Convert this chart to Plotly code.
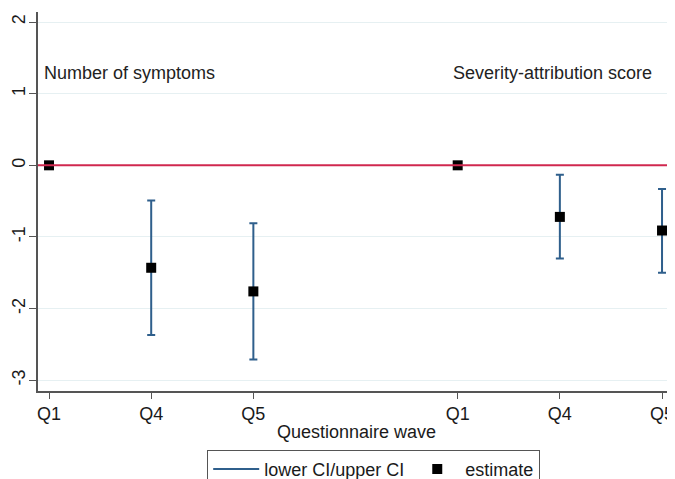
import plotly.graph_objects as go

# Data
x_pos = [1, 2, 3, 5, 6, 7]
tick_labels = ["Q1", "Q4", "Q5", "Q1", "Q4", "Q5"]
y_ticks = [-3, -2, -1, 0, 1, 2]
y_tick_labels = ["-3", "-2", "-1", "0", "1", "2"]
estimate = [0.0, -1.43, -1.76, 0.0, -0.72, -0.91]
upper_ci = [None, -0.49, -0.81, None, -0.13, -0.33]
lower_ci = [None, -2.37, -2.71, None, -1.30, -1.50]
panel_titles = ["Number of symptoms", "Severity-attribution score"]
panel_title_x = [0.93, 4.93]
panel_title_y = 1.29

ci_color = "#2f5f8c"
font_family = "Liberation Sans, Arial, sans-serif"

ci_x = [x for x, u in zip(x_pos, upper_ci) if u is not None]
ci_mid = [(u + l) / 2 for u, l in zip(upper_ci, lower_ci) if u is not None]
ci_half = [(u - l) / 2 for u, l in zip(upper_ci, lower_ci) if u is not None]

fig = go.Figure()

fig.add_trace(go.Scatter(
    x=ci_x, y=ci_mid, mode="markers",
    marker=dict(size=1, color="rgba(0,0,0,0)"),
    error_y=dict(type="data", array=ci_half, visible=True,
                 color=ci_color, thickness=2, width=4),
    showlegend=False, hoverinfo="skip",
))
# legend proxy for CI
fig.add_trace(go.Scatter(
    x=[None], y=[None], mode="lines",
    line=dict(color=ci_color, width=2),
    name="lower CI/upper CI",
))
fig.add_trace(go.Scatter(
    x=x_pos, y=estimate, mode="markers",
    marker=dict(symbol="square", size=10, color="black"),
    name="estimate",
))

fig.add_hline(y=0, line=dict(color="#d0284f", width=2))

for t, tx in zip(panel_titles, panel_title_x):
    fig.add_annotation(x=tx, y=panel_title_y, text=t, showarrow=False,
                       xanchor="left", yanchor="middle",
                       font=dict(size=18, color="#222222", family=font_family))

# the page body has an 8px default margin, so the figure is 8px smaller
fig.update_layout(
    width=667, height=471,
    margin=dict(l=30, r=0, t=4, b=88, autoexpand=False),
    plot_bgcolor="white", paper_bgcolor="white",
    font=dict(family=font_family, size=18, color="#1a1a1a"),
    showlegend=True,
    legend=dict(orientation="h", x=0.527, xanchor="center",
                yref="container", y=0.062, yanchor="top",
                bordercolor="#555555", borderwidth=1, font=dict(size=18),
                itemwidth=46, tracegroupgap=0),
    xaxis=dict(
        range=[0.892, 7.127], tickvals=x_pos, ticktext=tick_labels,
        showgrid=False, zeroline=False, showline=True, linecolor="#555555", linewidth=1.5,
        ticks="outside", ticklen=6, tickcolor="#555555", automargin=False,
        title=dict(text="Questionnaire wave", standoff=2, font=dict(size=18)),
    ),
    yaxis=dict(
        range=[-3.15, 2.14], tickvals=y_ticks, ticktext=y_tick_labels, tickangle=-90,
        showgrid=True, gridcolor="#e6f0f2", gridwidth=1, zeroline=False,
        showline=True, linecolor="#555555", linewidth=1.5, automargin=False,
        ticks="outside", ticklen=7, tickcolor="#555555", ticklabelstandoff=-3,
    ),
)

fig.write_html("out.html")
